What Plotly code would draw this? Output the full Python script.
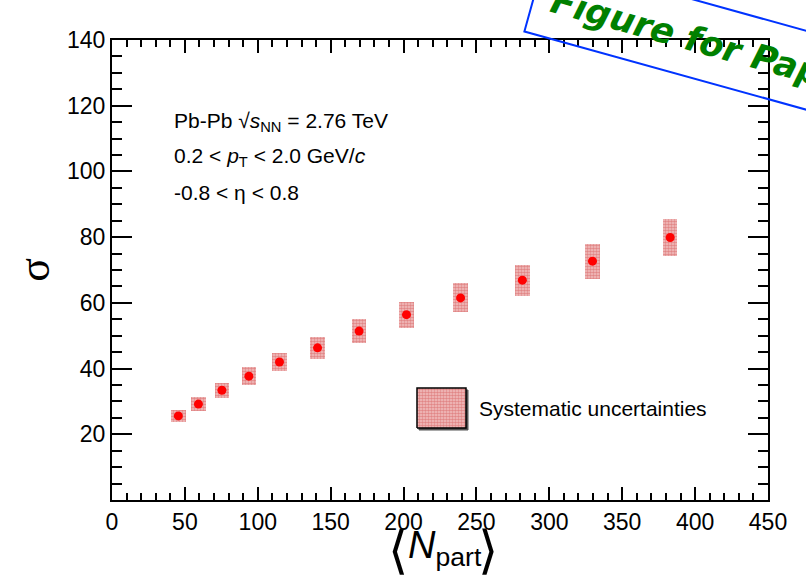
import plotly.graph_objects as go

# ---- data ----
npart = [45.5, 59.3, 75.4, 93.9, 114.9, 141.0, 169.5, 202.0, 239.1, 281.5, 329.6, 382.9]
sigma = [25.6, 29.2, 33.4, 37.7, 42.0, 46.3, 51.4, 56.4, 61.5, 66.9, 72.7, 79.9]
sys_err = [1.9, 2.2, 2.3, 2.8, 2.8, 3.3, 3.75, 4.0, 4.4, 4.7, 5.3, 5.7]
box_width = 10  # in Npart units

x_ticks = [0, 50, 100, 150, 200, 250, 300, 350, 400, 450]
y_ticks = [20, 40, 60, 80, 100, 120, 140]

FONT = "Liberation Sans, Arial, Helvetica, sans-serif"
BOX_BG = "#f2c4c4"
BOX_FG = "#d04848"

ML, MR, MT, MB = 112, 38, 40, 85
PW, PH = 806 - ML - MR, 585 - MT - MB  # plot area size in px


def px_to_paper(xp, yp):
    """screen pixel -> paper coordinates of the plot area"""
    return (xp - ML) / PW, 1 - (yp - MT) / PH


fig = go.Figure()

# systematic boxes
fig.add_trace(go.Bar(
    x=npart,
    y=[2 * e for e in sys_err],
    base=[s - e for s, e in zip(sigma, sys_err)],
    width=[box_width] * len(npart),
    marker=dict(
        color=BOX_BG,
        line=dict(width=0),
        pattern=dict(shape=".", fgcolor=BOX_FG, bgcolor=BOX_BG, size=3, solidity=0.6),
    ),
    showlegend=False,
    hoverinfo="skip",
))

# data points
fig.add_trace(go.Scatter(
    x=npart, y=sigma, mode="markers",
    marker=dict(color="#ff0000", size=9, line=dict(width=0)),
    showlegend=False,
))

# legend box on an overlay axis (paper-like 0..1), with a small drop shadow
sx0, sy0 = px_to_paper(419, 430)
sx1, sy1 = px_to_paper(468, 390)
fig.add_trace(go.Scatter(
    x=[sx0, sx1, sx1, sx0, sx0], y=[sy0, sy0, sy1, sy1, sy0],
    xaxis="x2", yaxis="y2", mode="lines", fill="toself",
    fillcolor="#555555", line=dict(color="#555555", width=1),
    showlegend=False, hoverinfo="skip",
))
lx0, ly0 = px_to_paper(417, 428)
lx1, ly1 = px_to_paper(466, 388)
fig.add_trace(go.Scatter(
    x=[lx0, lx1, lx1, lx0, lx0], y=[ly0, ly0, ly1, ly1, ly0],
    xaxis="x2", yaxis="y2", mode="lines", fill="toself",
    fillcolor=BOX_BG,
    fillpattern=dict(shape=".", fgcolor=BOX_FG, bgcolor=BOX_BG, size=3, solidity=0.6),
    line=dict(color="black", width=1.5),
    showlegend=False, hoverinfo="skip",
))

fig.update_layout(
    width=806, height=585,
    margin=dict(l=ML, r=MR, t=MT, b=MB),
    paper_bgcolor="white", plot_bgcolor="white",
    font=dict(family=FONT, color="black", size=22),
    bargap=0,
    xaxis=dict(
        range=[0, 450], tickvals=x_ticks, ticktext=[str(v) for v in x_ticks],
        ticks="inside", ticklen=13, tickwidth=1.5, tickcolor="black",
        minor=dict(ticks="inside", ticklen=7, dtick=10, tickwidth=1.5, tickcolor="black"),
        showline=True, linecolor="black", linewidth=2, mirror="ticks",
        showgrid=False, zeroline=False,
        tickfont=dict(size=23, family=FONT),
    ),
    yaxis=dict(
        range=[0, 140], tickvals=y_ticks, ticktext=[str(v) for v in y_ticks],
        ticks="inside", ticklen=20, tickwidth=1.5, tickcolor="black",
        minor=dict(ticks="inside", ticklen=10, dtick=5, tickwidth=1.5, tickcolor="black"),
        showline=True, linecolor="black", linewidth=2, mirror="ticks",
        showgrid=False, zeroline=False,
        tickfont=dict(size=23, family=FONT),
        title=dict(text="σ", font=dict(size=44, family="Liberation Serif, Times New Roman, serif"), standoff=4),
    ),
    xaxis2=dict(range=[0, 1], overlaying="x", visible=False, fixedrange=True),
    yaxis2=dict(range=[0, 1], overlaying="y", visible=False, fixedrange=True),
)

# x-axis title ⟨N_part⟩ built from pieces (for exact placement)
for text, xpix, ypix, size, anchor in [
    ("⟨", 398, 550, 52, "center"),
    ("<i>N</i><sub>part</sub>", 406, 548, 38, "left"),
    ("⟩", 488, 550, 52, "center"),
]:
    ax, ay = px_to_paper(xpix, ypix)
    fig.add_annotation(
        text=text, xref="paper", yref="paper", x=ax, y=ay, xanchor=anchor, yanchor="middle",
        showarrow=False, font=dict(family=FONT, size=size, color="black"),
    )

txt_font = dict(family=FONT, size=21, color="black")
labels = [
    ("Pb-Pb √<i>s</i><sub>NN</sub> = 2.76 TeV", 122),
    ("0.2 &lt; <i>p</i><sub>T</sub> &lt; 2.0 GeV/<i>c</i>", 157),
    ("-0.8 &lt; η &lt; 0.8", 192),
]
for text, ypix in labels:
    ax, ay = px_to_paper(172, ypix)
    fig.add_annotation(
        text=text, xref="paper", yref="paper", x=ax, y=ay,
        xanchor="left", yanchor="middle", showarrow=False, font=txt_font,
    )

tx, ty = px_to_paper(477, 408)
fig.add_annotation(
    text="Systematic uncertainties", xref="paper", yref="paper", x=tx, y=ty,
    xanchor="left", yanchor="middle", showarrow=False,
    font=dict(family=FONT, size=21, color="black"),
)

# watermark
wx, wy = px_to_paper(708, 43)
fig.add_annotation(
    text="<b><i>Figure for Paper</i></b>", xref="paper", yref="paper", x=wx, y=wy,
    xanchor="center", yanchor="middle", showarrow=False, textangle=15.5,
    font=dict(family="DejaVu Sans", size=35, color="#008000"),
    bordercolor="#0033ff", borderwidth=2, borderpad=17,
)

fig.write_html(
    "out.html",
    config={"displayModeBar": False},
    post_script="document.body.style.margin='0px';",
)
